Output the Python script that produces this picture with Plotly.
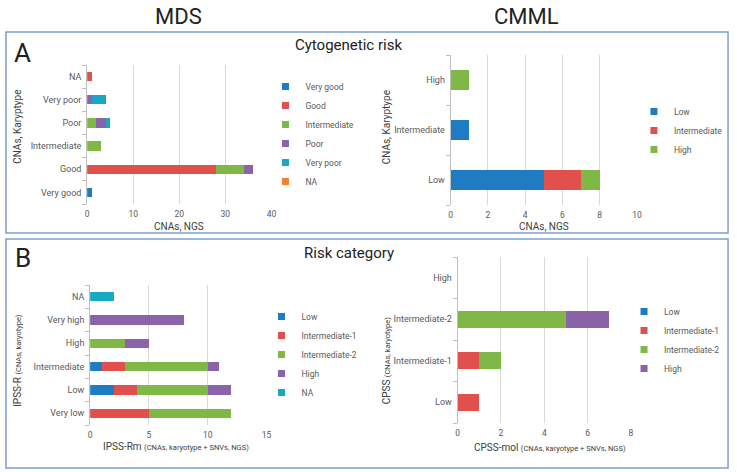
import plotly.graph_objects as go

FONT = "Roboto, Noto Sans, sans-serif"
W, H = 737, 472

COLORS = {
    "blue": "#1f7bc2",
    "red": "#e0504d",
    "green": "#80b847",
    "purple": "#8b63a8",
    "teal": "#17a9c1",
    "orange": "#f58230",
}

# --- A, MDS: cytogenetic risk (karyotype) vs NGS ---
mds_cyto_cats = ["Very good", "Good", "Intermediate", "Poor", "Very poor", "NA"]
mds_cyto_series = ["Very good", "Good", "Intermediate", "Poor", "Very poor", "NA"]
mds_cyto_colors = ["blue", "red", "green", "purple", "teal", "orange"]
mds_cyto_very_good = [1, 0, 0, 0, 0, 0]
mds_cyto_good = [0, 28, 0, 0, 0, 1]
mds_cyto_intermediate = [0, 6, 3, 2, 0, 0]
mds_cyto_poor = [0, 2, 0, 2, 1, 0]
mds_cyto_very_poor = [0, 0, 0, 1, 3, 0]
mds_cyto_na = [0, 0, 0, 0, 0, 0]

# --- A, CMML: cytogenetic risk ---
cmml_cyto_cats = ["Low", "Intermediate", "High"]
cmml_cyto_series = ["Low", "Intermediate", "High"]
cmml_cyto_colors = ["blue", "red", "green"]
cmml_cyto_low = [5, 1, 0]
cmml_cyto_intermediate = [2, 0, 0]
cmml_cyto_high = [1, 0, 1]

# --- B, MDS: IPSS-R vs IPSS-Rm ---
ipss_cats = ["Very low", "Low", "Intermediate", "High", "Very high", "NA"]
ipss_series = ["Low", "Intermediate-1", "Intermediate-2", "High", "NA"]
ipss_colors = ["blue", "red", "green", "purple", "teal"]
ipss_low = [0, 2, 1, 0, 0, 0]
ipss_int1 = [5, 2, 2, 0, 0, 0]
ipss_int2 = [7, 6, 7, 3, 0, 0]
ipss_high = [0, 2, 1, 2, 8, 0]
ipss_na = [0, 0, 0, 0, 0, 2]

# --- B, CMML: CPSS vs CPSS-mol ---
cpss_cats = ["Low", "Intermediate-1", "Intermediate-2", "High"]
cpss_series = ["Low", "Intermediate-1", "Intermediate-2", "High"]
cpss_colors = ["blue", "red", "green", "purple"]
cpss_low = [0, 0, 0, 0]
cpss_int1 = [1, 1, 0, 0]
cpss_int2 = [0, 1, 5, 0]
cpss_high = [0, 0, 2, 0]

panels = [
    dict(cats=mds_cyto_cats, names=mds_cyto_series, colors=mds_cyto_colors,
         values=[mds_cyto_very_good, mds_cyto_good, mds_cyto_intermediate,
                 mds_cyto_poor, mds_cyto_very_poor, mds_cyto_na],
         px_x=(86, 272), px_y=(65, 204), xr=[0, 40], dtick=10, leg=(266, 72)),
    dict(cats=cmml_cyto_cats, names=cmml_cyto_series, colors=cmml_cyto_colors,
         values=[cmml_cyto_low, cmml_cyto_intermediate, cmml_cyto_high],
         px_x=(453, 641), px_y=(55, 205), xr=[0, 10], dtick=2, leg=(638, 97)),
    dict(cats=ipss_cats, names=ipss_series, colors=ipss_colors,
         values=[ipss_low, ipss_int1, ipss_int2, ipss_high, ipss_na],
         px_x=(89, 267), px_y=(285, 425), xr=[0, 15], dtick=5, leg=(262, 302)),
    dict(cats=cpss_cats, names=cpss_series, colors=cpss_colors,
         values=[cpss_low, cpss_int1, cpss_int2, cpss_high],
         px_x=(460, 635), px_y=(257, 423), xr=[0, 8], dtick=2, leg=(628, 297)),
]

fig = go.Figure()
layout = {}

for i, p in enumerate(panels, start=1):
    sfx = "" if i == 1 else str(i)
    leg = "legend" if i == 1 else f"legend{i}"
    for name, col, vals in zip(p["names"], p["colors"], p["values"]):
        grp = f"{leg}-{name}"
        fig.add_trace(go.Bar(
            x=vals, y=p["cats"], orientation="h", name=name,
            marker=dict(color=COLORS[col], line=dict(width=0)),
            xaxis=f"x{sfx}", yaxis=f"y{sfx}", legendgroup=grp, showlegend=False,
        ))
        # legend-only entry so the key square can be small, like Excel's
        fig.add_trace(go.Scatter(
            x=[None], y=[None], mode="markers", name=name,
            marker=dict(symbol="square", size=7, color=COLORS[col]),
            xaxis=f"x{sfx}", yaxis=f"y{sfx}", legend=leg, legendgroup=grp,
            hoverinfo="skip",
        ))
    x0, x1 = p["px_x"]
    y0, y1 = p["px_y"]
    layout[f"xaxis{sfx}"] = dict(
        domain=[x0 / W, x1 / W], anchor=f"y{sfx}", range=p["xr"], dtick=p["dtick"],
        showgrid=True, gridcolor="#d9d9d9", gridwidth=1, zeroline=False,
        showline=False, ticks="", tickfont=dict(size=8.5, color="#595959"),
        ticklabelstandoff=3, fixedrange=True,
    )
    layout[f"yaxis{sfx}"] = dict(
        domain=[1 - y1 / H, 1 - y0 / H], anchor=f"x{sfx}", type="category",
        categoryorder="array", categoryarray=p["cats"],
        showline=True, linecolor="#bfbfbf", linewidth=1,
        ticks="outside", tickson="boundaries", ticklen=4, tickcolor="#bfbfbf",
        showgrid=False, tickfont=dict(size=9, color="#595959"),
        ticklabelstandoff=3, fixedrange=True,
    )
    lx, ly = p["leg"]
    layout[leg] = dict(
        x=lx / W, y=1 - ly / H, xanchor="left", yanchor="top",
        traceorder="normal", font=dict(size=8.5, color="#595959"),
        bgcolor="rgba(0,0,0,0)", itemwidth=30, tracegroupgap=0,
    )

fig.update_layout(**layout)

# panel frames
shapes = []
for top, bot in [(32, 233), (239, 468)]:
    shapes.append(dict(type="rect", xref="paper", yref="paper",
                       x0=4 / W, x1=733 / W, y0=1 - bot / H, y1=1 - top / H,
                       line=dict(color="#7ba0cd", width=1.5), fillcolor="rgba(0,0,0,0)",
                       layer="below"))


def ann(text, x, y, size, color="#222222", angle=0):
    return dict(text=text, x=x / W, y=1 - y / H, xref="paper", yref="paper",
                showarrow=False, xanchor="center", yanchor="middle",
                font=dict(size=size, color=color, family=FONT), textangle=angle)


small = "<span style='font-size:7.5px'>"
annotations = [
    ann("MDS", 178, 16, 22),
    ann("CMML", 530, 16, 22),
    ann("A", 21, 53, 26),
    ann("B", 21, 258, 26),
    ann("Cytogenetic risk", 350, 45, 15),
    ann("Risk category", 350, 253, 15),
    ann("CNAs, NGS", 179, 227, 10, "#404040"),
    ann("CNAs, NGS", 547, 227, 10, "#404040"),
    ann("IPSS-Rm " + small + "(CNAs, karyotype + SNVs, NGS)</span>", 176, 446, 10, "#404040"),
    ann("CPSS-mol " + small + "(CNAs, karyotype + SNVs, NGS)</span>", 553, 447, 10, "#404040"),
    ann("CNAs, Karyptype", 15, 127, 10, "#404040", -90),
    ann("CNAs, Karyptype", 388, 127, 10, "#404040", -90),
    ann("IPSS-R " + small + "(CNAs, karyotype)</span>", 15, 360, 10, "#404040", -90),
    ann("CPSS " + small + "(CNAs, karyotype)</span>", 388, 360, 10, "#404040", -90),
]

fig.update_layout(
    width=W, height=H, margin=dict(l=0, r=0, t=0, b=0),
    barmode="stack", bargap=0.6,
    plot_bgcolor="white", paper_bgcolor="white",
    font=dict(family=FONT, size=9, color="#595959"),
    shapes=shapes, annotations=annotations,
)

# drop the default 8px page margin so the figure sits at the window origin
fig.write_html("out.html", config={"displayModeBar": False},
               post_script="document.body.style.margin='0px';")
